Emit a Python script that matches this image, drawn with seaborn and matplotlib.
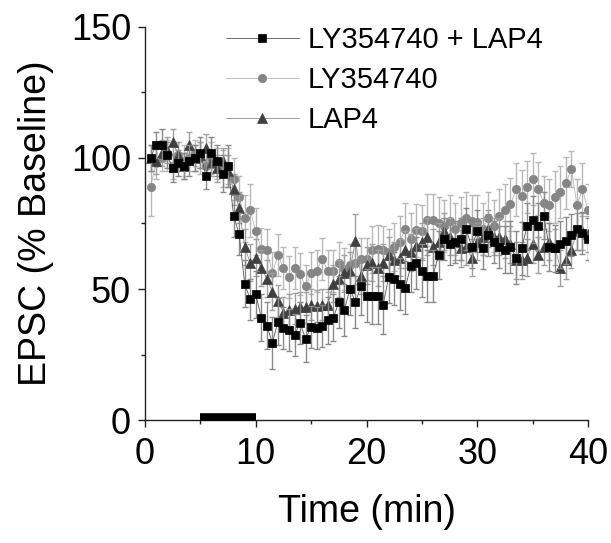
import numpy as np
import pandas as pd
import matplotlib
matplotlib.use("Agg")
import matplotlib.pyplot as plt
import seaborn as sns

# ---------------- data ----------------
time_min = [0.5 * k for k in range(1, 81)]

ly_lap4 = [100, 105, 105, 101, 96, 98, 97, 99, 100, 102,
           93, 102, 99, 94, 97, 78, 71, 52, 46, 48,
           39, 36, 29.5, 37.5, 35, 34.5, 32.5, 37, 31, 35.5,
           35, 35.8, 38, 39, 45, 42, 50, 45, 51, 47.5,
           47.5, 47.5, 44, 54.5, 54, 52, 50.5, 58.8, 60, 57,
           55, 55, 63, 69, 67, 68, 69, 73, 66, 72,
           65.5, 70.5, 68, 66, 65, 66, 62, 65.5, 74, 76.5,
           74, 78, 66, 65.5, 67, 68.5, 70.5, 73, 71.5, 69]
ly_lap4_err = [5, 5, 6, 5, 5, 5, 5, 6, 5, 6,
               5, 6, 6, 7, 8, 8, 8, 9, 8, 9,
               9, 9, 10, 9, 8, 8, 8, 8, 9, 8,
               8, 8, 9, 9, 10, 10, 10, 10, 11, 10,
               11, 11, 11, 10, 10, 10, 10, 10, 10, 10,
               10, 10, 9, 8, 8, 8, 8, 8, 8, 8,
               8, 8, 8, 8, 9, 10, 10, 10, 9, 9,
               9, 9, 9, 9, 9, 9, 8, 8, 8, 8]

ly = [89, 98, 100, 101, 97, 101, 99, 100, 102, 100,
      97, 100, 98, 96, 97, 92, 85, 77, 80, 72,
      65.4, 65, 56, 63, 58, 54.6, 58, 55.6, 51, 56,
      57, 61.5, 57, 57, 60, 57.5, 59, 60, 61.5, 61.5,
      65, 65.4, 65, 64, 66, 68, 73, 69, 72.4, 72,
      76.4, 76.4, 75, 74, 76, 73, 75, 77, 76, 75.7,
      73, 77, 74, 78, 80, 82.3, 88, 85.6, 89, 92,
      88.3, 83, 82, 85, 87, 90.5, 95.8, 82, 88, 80]
ly_err = [11, 6, 5, 6, 5, 5, 6, 5, 5, 6,
          5, 6, 6, 7, 7, 8, 8, 9, 10, 9,
          8, 8, 8, 8, 8, 8, 8, 8, 8, 8,
          8, 8, 8, 8, 8, 8, 8, 8, 8, 8,
          9, 9, 9, 9, 9, 10, 10, 10, 10, 10,
          10, 10, 10, 10, 10, 10, 10, 10, 10, 10,
          10, 10, 10, 10, 10, 10, 10, 10, 10, 10,
          10, 10, 10, 10, 10, 10, 7, 10, 10, 10]

lap4 = [100, 99, 102, 103, 106, 101, 97, 105, 100, 101,
        104, 98, 96, 99, 95, 88, 81, 66, 60, 62,
        58, 54, 49, 45.5, 41, 42, 42.5, 43, 43, 44,
        43.5, 44, 44, 52, 54, 56, 57, 68.5, 55, 59,
        60, 58, 60, 63, 61, 62, 65, 64, 66.4, 68,
        70, 66, 68, 72, 70, 68, 65.5, 66, 62, 68,
        70, 73, 70, 70, 69, 67, 61, 61, 62, 67,
        63, 66, 68, 66, 58, 61, 65, 72, 72, 71]
lap4_err = [5, 5, 5, 5, 5, 5, 5, 5, 5, 5,
            5, 5, 5, 5, 6, 6, 6, 7, 7, 7,
            7, 7, 7, 6, 6, 6, 6, 6, 6, 6,
            6, 6, 6, 7, 7, 7, 7, 10, 7, 7,
            7, 7, 7, 7, 7, 7, 7, 7, 7, 7,
            7, 7, 7, 7, 7, 7, 7, 7, 7, 7,
            7, 7, 7, 7, 7, 7, 7, 7, 7, 7,
            7, 7, 7, 7, 7, 7, 7, 7, 7, 7]

series_names = ["LY354740 + LAP4", "LY354740", "LAP4"]
drug_window = [5, 10]

# ---------------- style ----------------
sns.set_theme(style="ticks")
plt.rcParams["font.family"] = ["Liberation Sans", "DejaVu Sans"]
plt.rcParams["text.color"] = "black"
plt.rcParams["axes.labelcolor"] = "black"
plt.rcParams["xtick.color"] = "black"
plt.rcParams["ytick.color"] = "black"

fig = plt.figure(figsize=(6.11, 5.43), dpi=100)
ax = fig.add_axes([0.2373, 0.2265, 0.7251, 0.7238])

styles = {
    "LY354740 + LAP4": dict(vals=ly_lap4, err=ly_lap4_err, marker="s", mc="#000000",
                            lc="#555555", ec="#8a8a8a", ms=5.5, z=5),
    "LY354740": dict(vals=ly, err=ly_err, marker="o", mc="#858585",
                     lc="#b5b5b5", ec="#b8b8b8", ms=6.0, z=3),
    "LAP4": dict(vals=lap4, err=lap4_err, marker="^", mc="#3f3f3f",
                 lc="#8c8c8c", ec="#a0a0a0", ms=6.5, z=4),
}

for name in series_names:
    s = styles[name]
    ax.errorbar(time_min, s["vals"], yerr=s["err"], fmt="none",
                ecolor=s["ec"], elinewidth=1.0, capsize=2.5, capthick=1.0,
                zorder=s["z"] - 0.5)

for name in series_names:
    s = styles[name]
    df = pd.DataFrame({"t": time_min, "v": s["vals"]})
    sns.lineplot(data=df, x="t", y="v", ax=ax, color=s["lc"], linewidth=0.6,
                 marker=s["marker"], markersize=s["ms"], markerfacecolor=s["mc"],
                 markeredgecolor=s["mc"], markeredgewidth=0.5, label=name,
                 zorder=s["z"])

# drug application bar
ax.plot(drug_window, [1.3, 1.3], color="black", linewidth=5.5,
        solid_capstyle="butt", clip_on=False, zorder=10)

ax.set_xlim(0, 40)
ax.set_ylim(0, 150)
ax.set_xticks([0, 10, 20, 30, 40])
ax.set_yticks([0, 50, 100, 150])
ax.set_xticks([5, 15, 25, 35], minor=True)
ax.set_yticks([25, 75, 125], minor=True)
ax.tick_params(axis="both", which="major", labelsize=26, length=5, width=1.0,
               color="#222222", direction="out", pad=5)
ax.tick_params(axis="both", which="minor", length=3, width=1.0,
               color="#222222", direction="out")
ax.tick_params(axis="x", which="major", pad=7)
for side in ["top", "right"]:
    ax.spines[side].set_visible(False)
for side in ["left", "bottom"]:
    ax.spines[side].set_color("#222222")
    ax.spines[side].set_linewidth(1.0)

ax.set_xlabel("Time (min)", fontsize=27, labelpad=16)
ax.set_ylabel("EPSC (% Baseline)", fontsize=27, labelpad=12)

leg = ax.legend(loc="upper left", bbox_to_anchor=(226 / 611, 1 - 26 / 543),
                bbox_transform=fig.transFigure, frameon=False, fontsize=21,
                handlelength=2.5, handletextpad=0.3, labelspacing=0.42,
                borderpad=0, borderaxespad=0)

fig.savefig("out.png", dpi=100)
